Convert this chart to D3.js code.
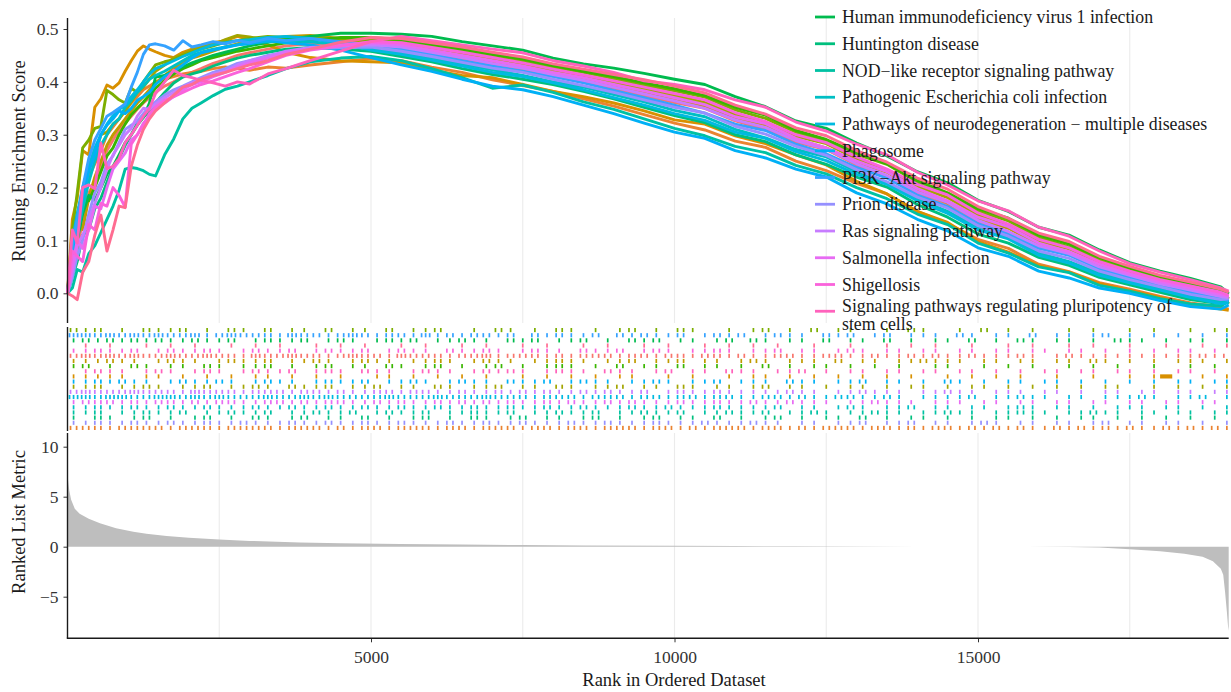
<!DOCTYPE html>
<html>
<head>
<meta charset="utf-8">
<script src="https://cdn.jsdelivr.net/npm/d3@7"></script>
<style>
  body { margin: 0; background: #fff; }
  svg { display: block; }
  text { font-family: "Liberation Serif", "DejaVu Serif", serif; }
</style>
</head>
<body>
<svg id="chart" width="1231" height="692"></svg>
<script>
// ---------------- data ----------------
// ranks at which the running enrichment scores are sampled
const scoreRanks = [0, 80, 160, 250, 350, 450, 550, 650, 750, 850, 950, 1050, 1150, 1250, 1350, 1450,
  1600, 1750, 1900, 2050, 2200, 2400, 2600, 2800, 3000, 3300, 3600, 4000, 4500, 5000,
  5500, 6000, 6500, 7000, 7500, 8000, 8500, 9000, 9500, 10000,
  10500, 11000, 11500, 12000, 12500, 13000, 13500, 14000, 14500, 15000,
  15500, 16000, 16500, 17000, 17500, 18000, 18500, 19000, 19130];

// palette: one colour per gene set (20 sets)
const setColors = ["#F8766D", "#EA8331", "#D89000", "#C09B00", "#A3A500", "#7CAE00", "#39B600",
  "#00BB4E", "#00BF7D", "#00C1A3", "#00BFC4", "#00BAE0", "#00B0F6", "#35A2FF", "#9590FF",
  "#C77CFF", "#E76BF3", "#FA62DB", "#FF62BC", "#FF6C91"];

// legend entries shown in the plot (gene set index -> label)
const legendSetIndex = [7, 8, 9, 10, 11, 12, 13, 14, 15, 16, 17, 18];
const legendLabels = [
  "Human immunodeficiency virus 1 infection",
  "Huntington disease",
  "NOD\u2212like receptor signaling pathway",
  "Pathogenic Escherichia coli infection",
  "Pathways of neurodegeneration \u2212 multiple diseases",
  "Phagosome",
  "PI3K\u2212Akt signaling pathway",
  "Prion disease",
  "Ras signaling pathway",
  "Salmonella infection",
  "Shigellosis",
  "Signaling pathways regulating pluripotency of\nstem cells"
];

// running enrichment scores, one array per gene set (same order as setColors)
const es00 = [0,.060,.080,.140,.190,.210,.240,.270,.290,.310,.322,.335,.348,.360,.370,.380,.392,.400,.410,.418,.425,.435,.442,.450,.455,.462,.468,.472,.474,.472,
  .464,.455,.444,.434,.424,.412,.400,.388,.374,.361,.350,.326,.310,.286,.272,.243,.220,.190,.169,.136,.116,.088,.074,.049,.032,.017,.004,-.008,-.006];
const es01 = [0,.070,.120,.180,.220,.245,.270,.300,.315,.330,.345,.360,.372,.385,.392,.400,.405,.410,.415,.418,.420,.425,.428,.425,.422,.428,.426,.432,.438,.444,
  .440,.428,.418,.404,.393,.382,.368,.354,.338,.322,.309,.288,.276,.250,.232,.208,.188,.155,.132,.102,.085,.055,.041,.020,.008,-.006,-.018,-.026,-.030];
const es02 = [0,.140,.180,.270,.262,.352,.368,.394,.388,.398,.420,.440,.458,.468,.462,.457,.450,.446,.456,.462,.468,.474,.478,.486,.480,.470,.456,.446,.440,.438,
  .436,.422,.412,.408,.395,.382,.372,.360,.345,.328,.320,.298,.283,.262,.243,.212,.188,.155,.134,.098,.078,.052,.040,.018,.005,-.008,-.022,-.030,-.032];
const es03 = [0,.100,.150,.120,.180,.220,.250,.280,.300,.315,.330,.345,.360,.372,.385,.398,.412,.425,.438,.445,.450,.458,.466,.472,.476,.480,.486,.488,.482,.476,
  .468,.459,.448,.438,.429,.417,.405,.393,.380,.368,.353,.332,.318,.291,.275,.248,.229,.195,.171,.141,.123,.093,.077,.053,.036,.020,.008,-.004,-.012];
const es04 = [0,.060,.150,.190,.240,.260,.300,.305,.320,.330,.345,.362,.380,.390,.405,.420,.432,.445,.452,.460,.466,.470,.480,.488,.485,.478,.482,.486,.480,.476,
  .472,.463,.453,.443,.433,.422,.410,.398,.386,.374,.361,.338,.321,.297,.283,.254,.232,.202,.181,.148,.126,.098,.084,.058,.040,.024,.012,.000,-.020];
const es05 = [0,.120,.190,.275,.290,.312,.316,.384,.376,.366,.360,.388,.380,.400,.416,.432,.438,.442,.450,.456,.462,.468,.475,.478,.482,.486,.484,.482,.480,.480,
  .477,.468,.459,.449,.440,.428,.418,.406,.394,.383,.371,.347,.331,.305,.287,.263,.244,.210,.187,.156,.137,.106,.088,.064,.045,.029,.016,.004,-.010];
const es06 = [0,.090,.130,.190,.175,.200,.230,.260,.275,.300,.320,.338,.350,.362,.375,.388,.402,.415,.425,.432,.440,.446,.452,.458,.462,.468,.474,.478,.484,.484,
  .480,.471,.462,.452,.443,.431,.420,.410,.398,.387,.374,.352,.337,.308,.291,.266,.245,.213,.190,.160,.142,.110,.093,.068,.048,.032,.019,.006,-.002];
const es07 = [0,.050,.100,.150,.185,.176,.200,.225,.240,.262,.285,.300,.318,.333,.360,.409,.412,.420,.428,.436,.442,.450,.456,.462,.468,.475,.480,.486,.492,.492,
  .490,.486,.476,.468,.460,.445,.434,.426,.416,.405,.395,.372,.353,.326,.312,.284,.260,.230,.209,.176,.155,.125,.110,.082,.058,.042,.028,.012,.000];
const es08 = [0,.030,.060,.110,.120,.160,.180,.210,.238,.255,.280,.300,.322,.333,.345,.360,.380,.398,.409,.415,.420,.430,.438,.445,.450,.456,.462,.465,.462,.458,
  .448,.438,.425,.414,.405,.395,.382,.368,.352,.336,.323,.300,.287,.262,.244,.220,.201,.168,.144,.112,.095,.068,.053,.030,.016,.002,-.012,-.020,-.016];
const es09 = [0,.010,.045,.040,.075,.090,.115,.140,.165,.195,.235,.238,.236,.232,.225,.222,.262,.292,.330,.350,.360,.374,.386,.392,.400,.412,.425,.438,.445,.448,
  .440,.425,.408,.388,.394,.380,.362,.348,.330,.312,.298,.278,.266,.242,.226,.200,.179,.150,.130,.095,.076,.050,.039,.015,.004,-.010,-.020,-.024,-.015];
const es10 = [0,.050,.110,.160,.210,.250,.280,.300,.320,.330,.352,.365,.380,.392,.405,.412,.420,.430,.440,.450,.456,.462,.466,.470,.474,.476,.478,.476,.470,.462,
  .455,.445,.434,.423,.412,.400,.390,.376,.362,.346,.334,.310,.294,.272,.258,.230,.209,.178,.155,.124,.106,.076,.060,.038,.022,.008,-.006,-.016,-.012];
const es11 = [0,.100,.150,.200,.240,.275,.300,.320,.336,.348,.355,.372,.385,.400,.415,.425,.432,.440,.448,.455,.462,.470,.474,.478,.480,.484,.486,.482,.472,.460,
  .452,.441,.430,.418,.410,.398,.385,.370,.356,.340,.327,.305,.293,.268,.251,.225,.206,.175,.151,.120,.103,.072,.057,.034,.020,.006,-.008,-.020,-.018];
const es12 = [0,.070,.120,.180,.230,.262,.300,.318,.330,.345,.340,.350,.365,.372,.380,.395,.410,.420,.432,.445,.455,.460,.465,.470,.472,.478,.474,.470,.460,.446,
  .432,.420,.405,.392,.385,.372,.356,.340,.322,.305,.293,.270,.256,.235,.220,.190,.169,.140,.118,.086,.070,.042,.029,.010,.000,-.014,-.025,-.030,-.022];
const es13 = [0,.090,.140,.200,.255,.290,.312,.335,.342,.350,.358,.390,.418,.452,.470,.472,.468,.460,.478,.466,.470,.476,.472,.478,.474,.482,.478,.482,.476,.470,
  .462,.452,.440,.430,.420,.410,.398,.384,.370,.356,.341,.320,.308,.282,.264,.238,.218,.186,.164,.132,.112,.085,.072,.046,.030,.014,.002,-.010,-.014];
const es14 = [0,.030,.070,.100,.150,.190,.210,.245,.260,.285,.310,.318,.325,.340,.352,.362,.375,.385,.392,.400,.408,.418,.425,.435,.440,.450,.456,.462,.465,.466,
  .458,.448,.437,.426,.418,.405,.393,.380,.366,.352,.341,.316,.301,.278,.261,.234,.211,.182,.161,.128,.108,.080,.066,.042,.026,.012,-.002,-.012,-.010];
const es15 = [0,.040,.090,.110,.140,.170,.200,.235,.262,.280,.300,.312,.335,.350,.348,.358,.370,.380,.390,.398,.405,.415,.420,.432,.440,.448,.458,.465,.468,.470,
  .466,.456,.446,.435,.426,.414,.403,.390,.377,.364,.350,.328,.314,.289,.273,.245,.223,.192,.172,.138,.117,.090,.075,.050,.034,.018,.006,-.006,-.008];
const es16 = [0,.050,.100,.085,.120,.165,.160,.200,.235,.250,.265,.290,.300,.322,.335,.350,.360,.372,.385,.395,.400,.410,.418,.428,.436,.445,.455,.462,.470,.474,
  .470,.460,.450,.440,.430,.418,.408,.395,.383,.370,.357,.334,.321,.293,.275,.250,.230,.198,.175,.144,.126,.095,.079,.055,.037,.022,.010,-.002,-.006];
const es17 = [0,.080,.070,.060,.130,.120,.170,.165,.200,.185,.163,.282,.300,.318,.340,.352,.365,.372,.380,.388,.395,.402,.410,.418,.425,.438,.450,.460,.468,.476,
  .474,.465,.456,.446,.436,.424,.413,.402,.390,.378,.366,.342,.325,.300,.285,.258,.235,.206,.186,.152,.131,.102,.086,.060,.042,.026,.014,.002,-.004];
const es18 = [0,.120,.095,.200,.205,.198,.284,.236,.240,.255,.285,.300,.318,.335,.350,.378,.400,.422,.412,.408,.403,.398,.392,.400,.396,.415,.425,.440,.458,.476,
  .486,.478,.470,.462,.455,.440,.430,.418,.402,.395,.385,.366,.352,.324,.307,.282,.262,.229,.205,.175,.156,.125,.108,.080,.056,.040,.026,.010,.004];
const es19 = [0,-.005,-.012,.040,.060,.110,.148,.080,.120,.165,.162,.240,.280,.310,.330,.345,.360,.375,.390,.395,.405,.412,.418,.425,.432,.440,.452,.462,.475,.484,
  .482,.474,.466,.456,.447,.434,.424,.414,.404,.392,.379,.356,.339,.313,.298,.270,.248,.218,.197,.164,.142,.114,.098,.070,.051,.034,.021,.008,.002];
const runningScores = [es00, es01, es02, es03, es04, es05, es06, es07, es08, es09,
  es10, es11, es12, es13, es14, es15, es16, es17, es18, es19];

// hit positions per gene set: one digit per block of 200 ranks = number of hits in it ("B" = solid run)
const hitBlockSize = 200;
const rugRowSet = [5, 13, 7, 19, 17, 0, 3, 6, 18, 2, 12, 4, 15, 11, 16, 10, 9, 8, 14, 1]; // top to bottom
const rugRowHits = [
  "21201021 12010210 20110201 10201120 01021010 21010120 10210010 12010201 10010210 01020101 00101001 01001011",
  "33232323 22312322 21322123 21221312 12212021 21120212 11201212 01211021 20120111 02101102 01101201 01010101",
  "12121212 11211201 21120121 01212011 21102120 11201021 20110120 21011020 11020101 10201021 01101021 10101101",
  "01010010 10100101 01001010 10010100 10100101 00101001 01001010 10100100 10010101 00100101 00101001 00100101",
  "11211201 21121012 11201211 20121102 11210121 10211201 21011210 11201101 21011011 01101101 10110101 01011010",
  "23232322 32232213 22322123 22132221 22312221 21222122 12212212 11221122 11211212 11211121 01211111 11111212",
  "11121101 21101211 20112101 21101121 01211011 21101120 11201101 21011102 01101121 11011011 01102101 01011101",
  "12010210 11021011 20101201 10210120 10120101 21010201 10201101 02010110 10101001 10010101 00101010 01001010",
  "01211012 10121012 11201210 21101211 01212101 21102110 12011021 10112010 11011011 01101010 11011011 01011010",
  "11111011 01010101 10101010 01101010 10100101 01010110 01010010 11010101 01010100 10101010 01001001 01B00101",
  "11212110 12112101 21101211 20112101 21102112 01211011 21011201 11021101 12011010 21010110 11010101 01011011",
  "11201121 01120112 10211201 12011021 01120110 21011201 10210110 12011010 11010110 10110101 01010110 01010101",
  "23222322 21322212 22122121 12212211 21121212 11212112 01211211 11121101 12111011 21101110 11010110 11011011",
  "33233223 32323222 32232322 22322232 22322212 22122212 21221221 12212112 21121011 11201121 10110111 21011201",
  "12221212 21212211 22121221 12121121 21212112 12112121 11211211 21121110 11211101 11011011 01101101 10110110",
  "11211211 21121112 11211211 21121121 12112112 11211121 12111211 11201101 21011201 10110121 01101011 10110101",
  "11201121 12011211 20112112 01211201 12112011 21120112 11201121 12011210 11211011 21101121 10112110 11011011",
  "10210120 10120102 10120110 20101201 02101201 10120101 20110201 01201011 02010110 10101101 01011010 10101010",
  "11211211 21121121 11211211 21121112 11211211 12112111 21112111 21101101 12011201 10121011 01101201 10110101",
  "22212222 12221222 21222121 22122212 21222122 12212221 22121222 12212122 21221212 21212121 12121212 11212121"
];

// ranked list metric along the ordered gene list
const metricRanks = [0, 10, 30, 60, 120, 200, 350, 535, 800, 1085, 1300, 1634, 2000, 2500, 3000, 3830, 4500,
  5480, 6500, 7500, 8500, 10000, 11000, 12000, 13000, 14000, 15000, 15800, 16500, 17000, 17500, 18000,
  18400, 18700, 18870, 19000, 19040, 19070, 19100, 19120, 19130];
const metricValues = [8.0, 6.6, 5.6, 4.7, 3.8, 3.3, 2.8, 2.35, 1.85, 1.5, 1.3, 1.07, 0.9, 0.73, 0.58, 0.42, 0.35,
  0.27, 0.22, 0.17, 0.13, 0.09, 0.06, 0.04, 0.02, 0.005, -0.005, -0.015, -0.04, -0.09, -0.25, -0.45,
  -0.7, -1.0, -1.45, -2.2, -2.8, -4.5, -6.5, -8.0, -8.4];

const xTicks = [5000, 10000, 15000];
const xGrid = [2500, 5000, 7500, 10000, 12500, 15000, 17500];
const esTicks = [0, 0.1, 0.2, 0.3, 0.4, 0.5];
const metricTicks = [-5, 0, 5, 10];
const nGenes = 19130;

// ---------------- layout ----------------
const svg = d3.select("#chart");
const left = 67.5;
const x = d3.scaleLinear().domain([0, nGenes]).range([left, left + nGenes * 303.5 / 5000]);
const right = x(nGenes);

const esPanel = { y0: 18, y1: 323 };
const rugPanel = { y0: 327.5, y1: 430.5 };
const metricPanel = { y0: 433, y1: 638.3 };

const yES = d3.scaleLinear().domain([0, 0.5]).range([293.3, 29]);
const yM = d3.scaleLinear().domain([0, 10]).range([546.7, 446.7]);

const gridColor = "#EBEBEB";
const axisColor = "#1a1a1a";
const tickText = "#333333";
const minus = s => String(s).replace("-", "\u2212");

// vertical grid lines, upper and lower panels
[[esPanel.y0, esPanel.y1], [metricPanel.y0, metricPanel.y1]].forEach(([a, b]) => {
  svg.append("g").selectAll("line").data(xGrid).join("line")
    .attr("x1", d => x(d)).attr("x2", d => x(d))
    .attr("y1", a).attr("y2", b)
    .attr("stroke", gridColor).attr("stroke-width", 1.1);
});

// ---------------- running enrichment score ----------------
const line = d3.line()
  .x((d, i) => x(scoreRanks[i]))
  .y(d => yES(d));

svg.append("g").selectAll("path").data(runningScores).join("path")
  .attr("d", d => line(d))
  .attr("fill", "none")
  .attr("stroke", (d, i) => setColors[i])
  .attr("stroke-width", 2.9)
  .attr("stroke-linejoin", "round");

// y axis (upper)
const axES = svg.append("g").attr("transform", `translate(${left},0)`)
  .call(d3.axisLeft(yES).tickValues(esTicks).tickFormat(d3.format(".1f")).tickSize(4).tickPadding(5));
axES.select(".domain").remove();
axES.selectAll("line").attr("stroke", tickText);
axES.selectAll("text").attr("fill", tickText).style("font-size", "17.5px")
  .style("font-family", '"Liberation Serif", serif');
svg.append("line").attr("x1", left).attr("x2", left).attr("y1", esPanel.y0).attr("y2", esPanel.y1)
  .attr("stroke", axisColor).attr("stroke-width", 1.4);

svg.append("text")
  .attr("transform", `translate(25,${161}) rotate(-90)`)
  .attr("text-anchor", "middle").attr("fill", "#1a1a1a")
  .style("font-size", "18.5px")
  .text("Running Enrichment Score");

// ---------------- rug of hits ----------------
const rowH = (rugPanel.y1 - rugPanel.y0) / rugRowSet.length;
const rugG = svg.append("g");
rugRowSet.forEach((setIdx, r) => {
  const codes = rugRowHits[r].replace(/\s/g, "");
  const ticks = [];
  const blocks = [];
  for (let b = 0; b < codes.length; b++) {
    const c = codes[b];
    if (c === "B") { blocks.push(b * hitBlockSize); continue; }
    const n = +c;
    for (let k = 0; k < n; k++) {
      const rank = b * hitBlockSize + (k + 0.5) * hitBlockSize / n;
      if (rank <= nGenes) ticks.push(rank);
    }
  }
  const yTop = rugPanel.y0 + r * rowH + 0.5;
  rugG.append("g").selectAll("rect").data(ticks).join("rect")
    .attr("x", d => x(d) - 0.85).attr("width", 1.7)
    .attr("y", yTop).attr("height", rowH - 1)
    .attr("fill", setColors[setIdx]);
  rugG.append("g").selectAll("rect").data(blocks).join("rect")
    .attr("x", d => x(d)).attr("width", d => x(d + hitBlockSize) - x(d))
    .attr("y", yTop).attr("height", rowH - 1)
    .attr("fill", setColors[setIdx]);
});
svg.append("line").attr("x1", left).attr("x2", left).attr("y1", rugPanel.y0 - 0.5).attr("y2", rugPanel.y1 + 0.5)
  .attr("stroke", axisColor).attr("stroke-width", 1.4);

// ---------------- ranked list metric ----------------
const area = d3.area()
  .x((d, i) => x(metricRanks[i]))
  .y0(yM(0))
  .y1(d => yM(d));
svg.append("path").datum(metricValues).attr("d", area).attr("fill", "#BEBEBE");

const axM = svg.append("g").attr("transform", `translate(${left},0)`)
  .call(d3.axisLeft(yM).tickValues(metricTicks).tickFormat(d => minus(d)).tickSize(4).tickPadding(5));
axM.select(".domain").remove();
axM.selectAll("line").attr("stroke", tickText);
axM.selectAll("text").attr("fill", tickText).style("font-size", "17.5px")
  .style("font-family", '"Liberation Serif", serif');
svg.append("line").attr("x1", left).attr("x2", left).attr("y1", metricPanel.y0).attr("y2", metricPanel.y1)
  .attr("stroke", axisColor).attr("stroke-width", 1.4);

const axX = svg.append("g").attr("transform", `translate(0,${metricPanel.y1})`)
  .call(d3.axisBottom(x).tickValues(xTicks).tickFormat(d3.format("d")).tickSize(4).tickPadding(8));
axX.select(".domain").remove();
axX.selectAll("line").attr("stroke", tickText);
axX.selectAll("text").attr("fill", tickText).style("font-size", "17.5px")
  .style("font-family", '"Liberation Serif", serif');
svg.append("line").attr("x1", left - 0.7).attr("x2", right).attr("y1", metricPanel.y1).attr("y2", metricPanel.y1)
  .attr("stroke", axisColor).attr("stroke-width", 1.4);

svg.append("text")
  .attr("transform", `translate(25,${522}) rotate(-90)`)
  .attr("text-anchor", "middle").attr("fill", "#1a1a1a")
  .style("font-size", "18.5px")
  .text("Ranked List Metric");

svg.append("text")
  .attr("x", 674).attr("y", 686)
  .attr("text-anchor", "middle").attr("fill", "#1a1a1a")
  .style("font-size", "18.5px")
  .text("Rank in Ordered Dataset");

// ---------------- legend ----------------
const legend = svg.append("g");
const legY0 = 17, legStep = 26.75;
legendLabels.forEach((label, i) => {
  const cy = legY0 + i * legStep;
  legend.append("line")
    .attr("x1", 815).attr("x2", 835).attr("y1", cy).attr("y2", cy)
    .attr("stroke", setColors[legendSetIndex[i]]).attr("stroke-width", 2.8);
  const lines = label.split("\n");
  const t = legend.append("text").attr("x", 842).attr("fill", "#1a1a1a").style("font-size", "17.8px");
  lines.forEach((ln, j) => {
    t.append("tspan").attr("x", 842)
      .attr("y", cy + (lines.length > 1 ? -5 + j * 18 : 0))
      .attr("dy", "0.34em")
      .text(ln);
  });
});
</script>
</body>
</html>
